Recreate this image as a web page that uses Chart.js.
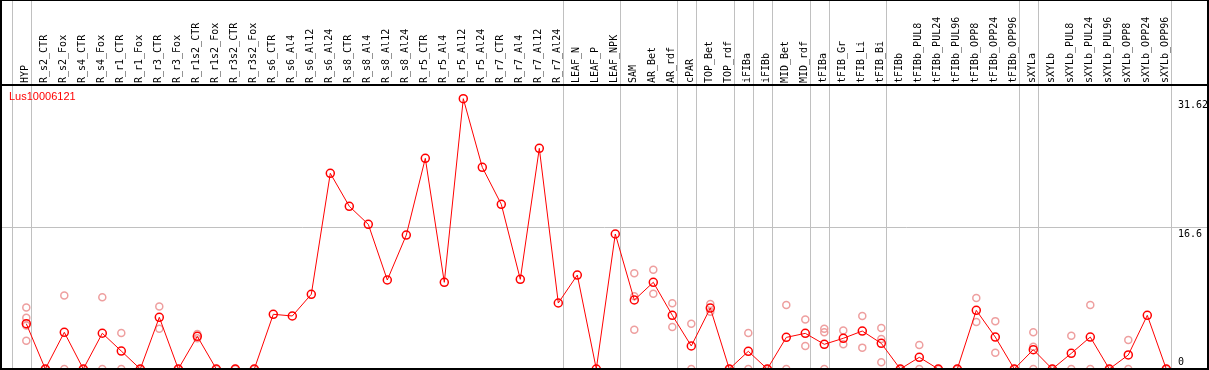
<!DOCTYPE html>
<html>
<head>
<meta charset="utf-8">
<script src="https://cdn.jsdelivr.net/npm/chart.js@4.4.0/dist/chart.umd.min.js"></script>
<style>
  html, body { margin: 0; padding: 0; background: #fff; }
  #wrap { width: 1209px; height: 370px; position: relative; }
</style>
</head>
<body>
<div id="wrap"><canvas id="graph"></canvas></div>
<script>
const geneName = 'Lus10006121';

const samples = ['HYP', 'R_s2_CTR', 'R_s2_Fox', 'R_s4_CTR', 'R_s4_Fox', 'R_r1_CTR', 'R_r1_Fox',
  'R_r3_CTR', 'R_r3_Fox', 'R_r1s2_CTR', 'R_r1s2_Fox', 'R_r3s2_CTR', 'R_r3s2_Fox',
  'R_s6_CTR', 'R_s6_Al4', 'R_s6_Al12', 'R_s6_Al24', 'R_s8_CTR', 'R_s8_Al4', 'R_s8_Al12', 'R_s8_Al24',
  'R_r5_CTR', 'R_r5_Al4', 'R_r5_Al12', 'R_r5_Al24', 'R_r7_CTR', 'R_r7_Al4', 'R_r7_Al12', 'R_r7_Al24',
  'LEAF_N', 'LEAF_P', 'LEAF_NPK', 'SAM', 'AR_Bet', 'AR_rdf', 'cPAR', 'TOP_Bet', 'TOP_rdf',
  'iFIBa', 'iFIBb', 'MID_Bet', 'MID_rdf', 'tFIBa', 'tFIB_Gr', 'tFIB_Li', 'tFIB_Bi', 'tFIBb',
  'tFIBb_PUL8', 'tFIBb_PUL24', 'tFIBb_PUL96', 'tFIBb_OPP8', 'tFIBb_OPP24', 'tFIBb_OPP96',
  'sXYLa', 'sXYLb', 'sXYLb_PUL8', 'sXYLb_PUL24', 'sXYLb_PUL96', 'sXYLb_OPP8', 'sXYLb_OPP24', 'sXYLb_OPP96'];

// mean expression per sample
const means = [5.30, 0, 4.29, 0, 4.18, 2.1, 0, 6.05, 0, 3.82, 0, 0, 0,
  6.4, 6.2, 8.74, 22.89, 19.03, 16.92, 10.41, 15.67, 24.64, 10.14,
  31.62, 23.59, 19.26, 10.49, 25.81, 7.72, 10.99, 0,
  15.79, 8.07, 10.14, 6.28, 2.69, 7.13, 0, 2.07, 0, 3.7, 4.17, 2.89, 3.59, 4.44, 3.0,
  0, 1.37, 0, 0, 6.86, 3.74, 0, 2.26, 0, 1.83, 3.74, 0, 1.64, 6.28, 0];

// replicates (null = none shown)
const repA = [7.2, 0, 8.6, 0, 8.4, 4.2, 0, 7.3, 0, 4.1, 0, 0, 0,
  null, null, null, null, null, null, null, null, null, null, null, null, null, null, null, null, null, null, null,
  11.2, 11.6, 7.7, 5.3, 7.6, 0, 4.2, 0, 7.5, 5.8, 4.7, 4.5, 6.2, 4.8,
  0, 2.8, 0, 0, 8.3, 5.6, 0, 4.3, 0, 3.9, 7.5, 0, 3.4, null, 0];
const repB = [6.0, 0, 0, 0, 0, 0, 0, 4.7, 0, 3.6, 0, 0, 0,
  null, null, null, null, null, null, null, null, null, null, null, null, null, null, null, null, null, null, null,
  8.5, 8.8, 4.9, 0, 6.7, 0, 0, 0, 0, 2.7, 4.3, 2.9, 2.5, 3.5,
  0, 0, 0, 0, 5.5, 1.9, 0, 2.6, 0, 0, 0, 0, 0, null, 0];
const repC = [5.1, null, null, null, null, null, null, null, null, null, null, null, null,
  null, null, null, null, null, null, null, null, null, null, null, null, null, null, null, null, null, null, null,
  4.6, null, null, null, null, null, null, null, null, null, 0, null, null, 0.8,
  null, null, null, null, null, null, null, 0, null, null, null, null, null, null, null];
const repD = [3.3, null, null, null, null, null, null, null, null, null, null, null, null,
  null, null, null, null, null, null, null, null, null, null, null, null, null, null, null, null, null, null, null,
  null, null, null, null, null, null, null, null, null, null, null, null, null, null,
  null, null, null, null, null, null, null, null, null, null, null, null, null, null, null];

const yTicks = [0, 16.6, 31.62];
// group separators sit just after these sample indexes
const groupEnds = [-1, 0, 28, 31, 34, 35, 37, 38, 39, 41, 42, 45, 52, 53, 60];

const toPoints = arr => arr.map((v, i) => v === null ? null : { x: i, y: v }).filter(p => p);

const framePlugin = {
  id: 'frame',
  beforeDraw(chart) {
    const { ctx, height, scales: { x } } = chart;
    ctx.save();
    ctx.strokeStyle = '#c0c0c0';
    ctx.lineWidth = 1;
    groupEnds.forEach(i => {
      const px = Math.round(x.getPixelForValue(i + 0.25)) + 0.5;
      ctx.beginPath();
      ctx.moveTo(px, 0);
      ctx.lineTo(px, height);
      ctx.stroke();
    });
    ctx.restore();
  },
  afterDraw(chart) {
    const { ctx, width, height, chartArea } = chart;
    ctx.save();
    ctx.fillStyle = '#000';
    ctx.fillRect(0, 0, width, 1);
    ctx.fillRect(0, chartArea.top - 1, width, 2);
    ctx.fillRect(0, 0, 2, height);
    ctx.fillRect(width - 2, 0, 2, height);
    ctx.fillRect(0, height - 2, width, 2);
    ctx.fillStyle = '#ff0000';
    ctx.font = '11px "Liberation Sans"';
    ctx.textBaseline = 'middle';
    ctx.fillText(geneName, chartArea.left + 8, chartArea.top + 12);
    ctx.restore();
  }
};

const repStyle = {
  showLine: false,
  pointRadius: 3.5,
  pointBorderWidth: 1.5,
  pointBorderColor: '#ee9f9f',
  pointBackgroundColor: 'rgba(0,0,0,0)',
  order: 1
};

new Chart(document.getElementById('graph'), {
  type: 'scatter',
  data: {
    datasets: [
      {
        label: geneName,
        data: toPoints(means),
        showLine: true,
        borderColor: '#ff0000',
        borderWidth: 1,
        pointRadius: 4,
        pointBorderWidth: 1.5,
        pointBorderColor: '#ff0000',
        pointBackgroundColor: 'rgba(0,0,0,0)',
        order: 0
      },
      { label: 'repA', data: toPoints(repA), ...repStyle },
      { label: 'repB', data: toPoints(repB), ...repStyle },
      { label: 'repC', data: toPoints(repC), ...repStyle },
      { label: 'repD', data: toPoints(repD), ...repStyle }
    ]
  },
  options: {
    responsive: true,
    maintainAspectRatio: false,
    animation: false,
    layout: { autoPadding: false, padding: { left: 1, right: 1, top: 0, bottom: 1 } },
    plugins: { legend: { display: false }, tooltip: { enabled: false } },
    scales: {
      x: {
        type: 'linear',
        position: 'top',
        min: -1.3316,
        max: 62.195,
        afterBuildTicks: s => { s.ticks = samples.map((_, i) => ({ value: i })); },
        afterFit: s => { s.height = 85; s.paddingLeft = 0; s.paddingRight = 0; },
        grid: { display: false, drawTicks: false },
        border: { display: false },
        ticks: {
          autoSkip: false,
          minRotation: 90,
          maxRotation: 90,
          padding: 2,
          labelOffset: 11,
          color: '#000',
          font: { family: 'DejaVu Sans Mono', size: 10 },
          callback: (v, i) => samples[i]
        }
      },
      y: {
        type: 'linear',
        position: 'right',
        min: 0,
        max: 33.22,
        afterBuildTicks: s => { s.ticks = yTicks.map(v => ({ value: v })); },
        afterFit: s => { s.width = 0; s.paddingTop = 0; s.paddingBottom = 0; },
        grid: {
          drawTicks: false,
          color: c => (c.tick && c.tick.value === 16.6) ? '#c0c0c0' : 'rgba(0,0,0,0)'
        },
        border: { display: false },
        ticks: {
          mirror: true,
          crossAlign: 'far',
          padding: 0,
          color: '#000',
          font: { family: 'DejaVu Sans Mono', size: 10, lineHeight: 1.4 },
          callback: v => v === 0 ? ['0', ''] : ['', String(v)]
        }
      }
    }
  },
  plugins: [framePlugin]
});
</script>
</body>
</html>
